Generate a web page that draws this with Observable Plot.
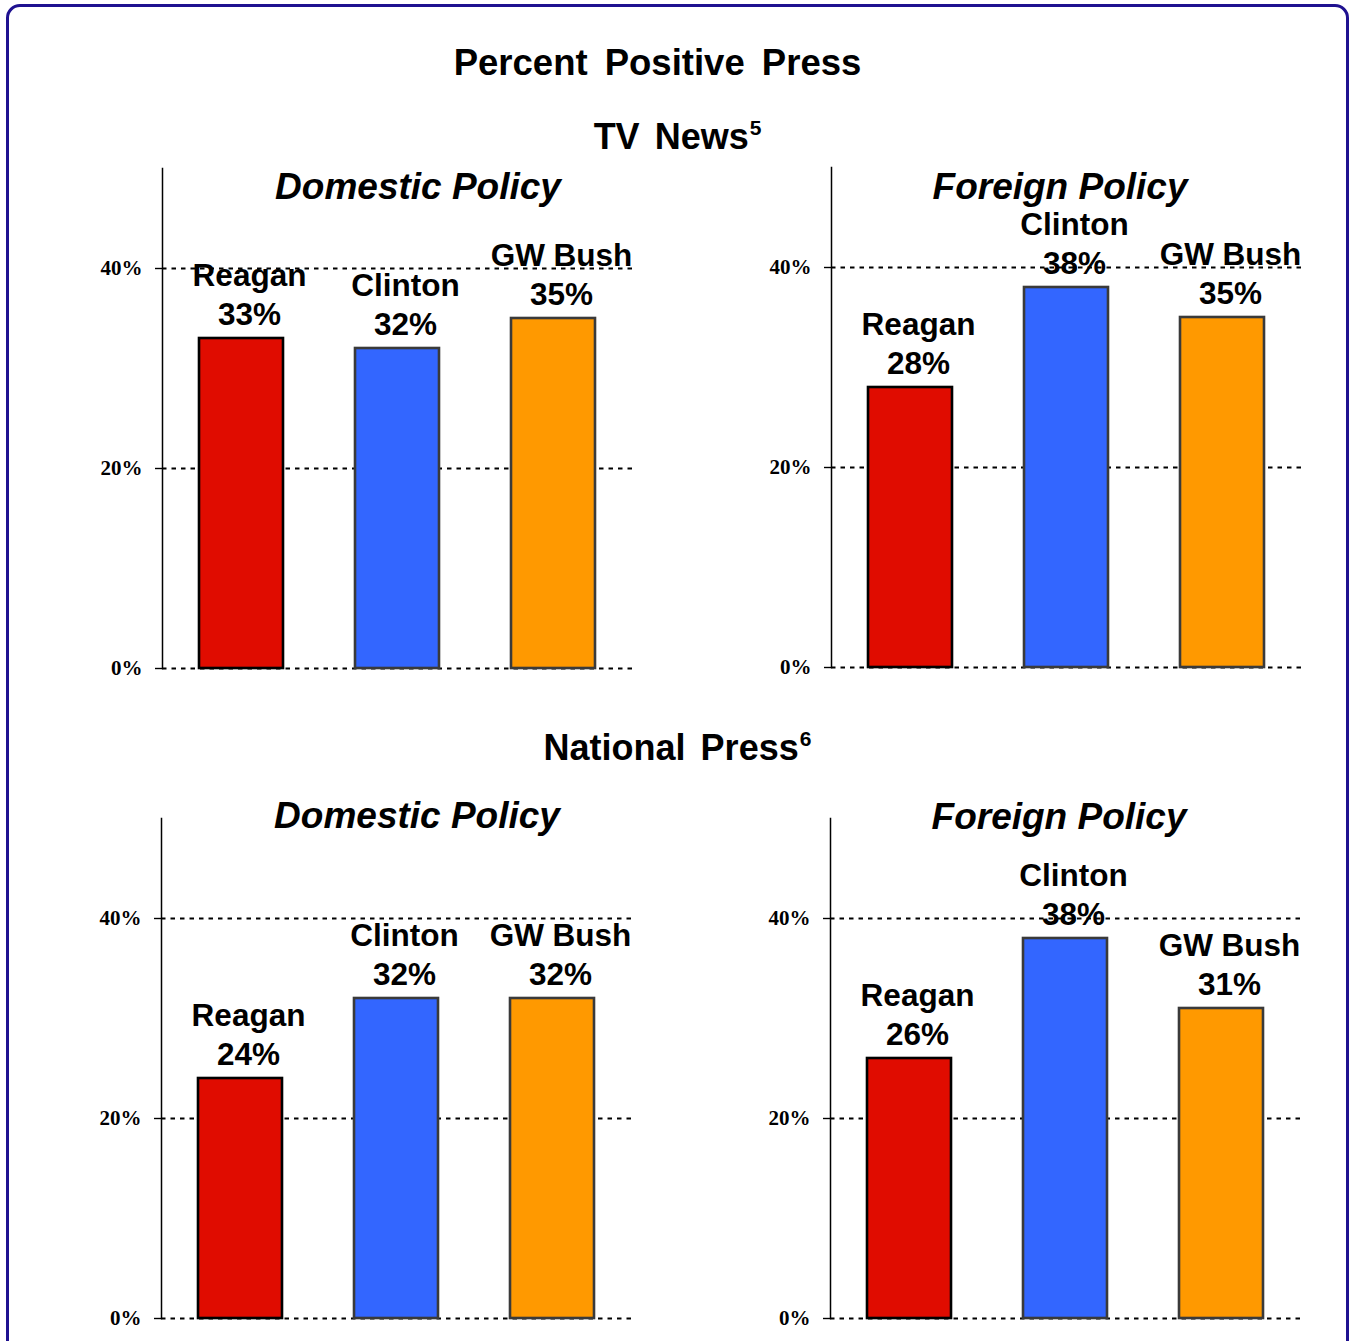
<!DOCTYPE html>
<html>
<head>
<meta charset="utf-8">
<script src="https://cdn.jsdelivr.net/npm/d3@7"></script>
<script src="https://cdn.jsdelivr.net/npm/@observablehq/plot@0.6"></script>
<style>
  body { margin: 0; background: #fff; }
  #page { position: relative; width: 1355px; height: 1341px; overflow: hidden; background: #fff;
          font-family: "Liberation Sans", Arial, sans-serif; color: #000; }
  #frame { position: absolute; left: 6px; top: 4px; width: 1343px; height: 1370px;
           border: 3px solid #1f1190; border-radius: 14px; box-sizing: border-box; }
  .hdr { position: absolute; left: 0; width: 1355px; text-align: center; font-weight: bold;
         font-size: 36px; line-height: 1; word-spacing: 5px; }
  .hdr sup { font-size: 21px; vertical-align: 0; position: relative; top: -14px; margin-left: 1px; }
  .ptitle { position: absolute; width: 600px; text-align: center; font-weight: bold; font-style: italic;
            font-size: 37px; line-height: 1; }
  .panel { position: absolute; }
  .panel svg { overflow: visible; }
</style>
</head>
<body>
<div id="page">
  <div id="frame"></div>
  <div class="hdr" style="top:45px;left:-20px;font-size:36.5px;word-spacing:7px">Percent Positive Press</div>
  <div class="hdr" style="top:119px">TV News<sup>5</sup></div>
  <div class="hdr" style="top:730px">National Press<sup>6</sup></div>
  <div class="ptitle" style="left:118px;top:168px">Domestic Policy</div>
  <div class="ptitle" style="left:760px;top:168px">Foreign Policy</div>
  <div class="ptitle" style="left:117px;top:797px">Domestic Policy</div>
  <div class="ptitle" style="left:759px;top:798px">Foreign Policy</div>
  <div class="panel" id="tvDomestic" style="left:90px;top:149px"></div>
  <div class="panel" id="tvForeign" style="left:759px;top:148px"></div>
  <div class="panel" id="pressDomestic" style="left:89px;top:799px"></div>
  <div class="panel" id="pressForeign" style="left:758px;top:799px"></div>
</div>
<script>
// Presidents and their bar colours
const presidents = ["Reagan", "Clinton", "GW Bush"];
const barColors = ["#e00c00", "#3366ff", "#ff9900"];

// Percent positive coverage
const tvDomestic = [33, 32, 35];
const tvForeign = [28, 38, 35];
const pressDomestic = [24, 32, 32];
const pressForeign = [26, 38, 31];

// Y axis
const yTicks = [0, 20, 40];
const yDomain = [0, 50];

function panel(values) {
  const data = presidents.map((p, i) => ({president: p, value: values[i]}));
  return Plot.plot({
    width: 542,
    height: 529,
    marginLeft: 72,
    marginRight: 0,
    marginTop: 19,
    marginBottom: 10,
    style: {fontFamily: "'Liberation Sans', Arial, sans-serif", background: "transparent", color: "#000"},
    x: {domain: presidents, paddingInner: 0.46, paddingOuter: 0.23, axis: null},
    y: {domain: yDomain, axis: null},
    color: {domain: presidents, range: barColors},
    marks: [
      Plot.ruleY(yTicks, {stroke: "#000", strokeWidth: 1.9, strokeDasharray: "4.5,5"}),
      Plot.barY(data, {filter: d => d.president === "Reagan", x: "president", y: "value",
        fill: "president", stroke: "#000", strokeWidth: 2.6}),
      Plot.barY(data, {filter: d => d.president !== "Reagan", x: "president", y: "value",
        fill: "president", stroke: "#3a3a3a", strokeWidth: 2.6}),
      Plot.axisY({ticks: yTicks, tickFormat: d => d + "%", tickSize: 7, tickPadding: 13,
        stroke: "#000", strokeWidth: 1.4, fontFamily: "'Liberation Serif', 'Times New Roman', serif",
        fontSize: 21, fontWeight: "bold", label: null}),
      Plot.frame({anchor: "left", stroke: "#000", strokeWidth: 1.5}),
      Plot.text(data, {x: "president", y: "value", text: d => `${d.president}\n${d.value}%`,
        lineAnchor: "bottom", lineHeight: 1.21, dx: 8, dy: -14, fontSize: 31.5, fontWeight: "bold", fill: "#000"})
    ]
  });
}

document.getElementById("tvDomestic").append(panel(tvDomestic));
document.getElementById("tvForeign").append(panel(tvForeign));
document.getElementById("pressDomestic").append(panel(pressDomestic));
document.getElementById("pressForeign").append(panel(pressForeign));
</script>
</body>
</html>
